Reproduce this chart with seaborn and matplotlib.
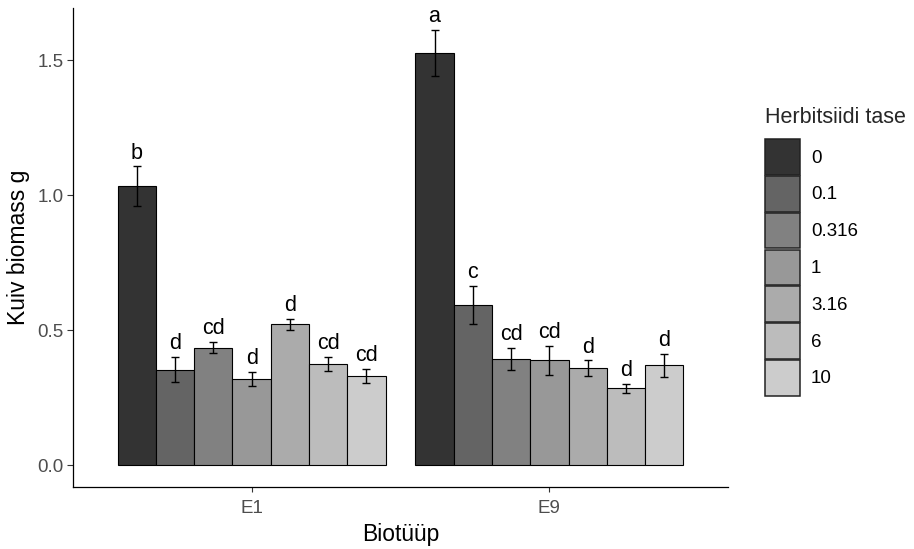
import matplotlib
matplotlib.use("Agg")
import matplotlib.pyplot as plt
import seaborn as sns
import pandas as pd
from matplotlib.patches import Patch

# Dry biomass (g) per biotype and herbicide level: means, standard errors, group letters
biotypes = ["E1", "E9"]
levels = ["0", "0.1", "0.316", "1", "3.16", "6", "10"]

e1_mean = [1.033, 0.354, 0.435, 0.319, 0.522, 0.376, 0.330]
e1_se = [0.074, 0.046, 0.021, 0.026, 0.020, 0.026, 0.026]
e1_letters = ["b", "d", "cd", "d", "d", "cd", "cd"]

e9_mean = [1.527, 0.593, 0.394, 0.389, 0.359, 0.284, 0.370]
e9_se = [0.085, 0.070, 0.040, 0.054, 0.029, 0.018, 0.043]
e9_letters = ["a", "c", "cd", "cd", "d", "d", "d"]

grey_fill = ["#333333", "#646464", "#818181", "#989898", "#ABABAB", "#BCBCBC", "#CCCCCC"]

df = pd.DataFrame({
    "Biotüüp": [biotypes[0]] * len(levels) + [biotypes[1]] * len(levels),
    "tase": levels + levels,
    "mass": e1_mean + e9_mean,
    "se": e1_se + e9_se,
    "letter": e1_letters + e9_letters,
})

sns.set_theme(style="ticks")
plt.rcParams["font.family"] = ["Liberation Sans", "DejaVu Sans"]

W, H = 914, 549
fig = plt.figure(figsize=(W / 100, H / 100), dpi=100)
ax = fig.add_axes([73 / W, 1 - 487 / H, (728 - 73) / W, (487 - 8) / H])

sns.barplot(
    data=df, x="Biotüüp", y="mass", hue="tase",
    order=biotypes, hue_order=levels, palette=grey_fill,
    width=0.9, gap=0, errorbar=None, saturation=1,
    edgecolor="black", linewidth=0.8, legend=False, ax=ax,
)

# error bars and significance letters on top of each bar
bars = sorted(ax.patches, key=lambda p: p.get_x())
for p, (_, row) in zip(bars, df.iterrows()):
    xc = p.get_x() + p.get_width() / 2
    top = p.get_height()
    ax.errorbar(xc, top, yerr=row["se"], fmt="none", ecolor="black",
                elinewidth=1.0, capsize=3.0, capthick=1.0, zorder=3)
    ax.annotate(row["letter"], (xc, top + row["se"]), xytext=(0, 5.5),
                textcoords="offset points", ha="center", va="baseline",
                fontsize=15.5, color="black")

ax.set_xlim(-0.6, 1.6)
ax.set_ylim(-0.081, 1.693)
ax.set_yticks([0.0, 0.5, 1.0, 1.5])
ax.set_yticklabels(["0.0", "0.5", "1.0", "1.5"])

for side in ("top", "right"):
    ax.spines[side].set_visible(False)
for side in ("left", "bottom"):
    ax.spines[side].set_linewidth(0.9)
    ax.spines[side].set_color("black")

ax.tick_params(axis="both", width=0.8, color="#333333",
               labelcolor="#4D4D4D", labelsize=13.5)
ax.tick_params(axis="x", length=3.5, pad=6)
ax.tick_params(axis="y", length=4.5, pad=2.5)
ax.set_xlabel("Biotüüp", fontsize=16.5, color="black", labelpad=4)
ax.set_ylabel("Kuiv biomass g", fontsize=16.5, color="black", labelpad=5)

handles = [Patch(facecolor=c, edgecolor="#222222", linewidth=1.1) for c in grey_fill]
leg = ax.legend(
    handles, levels, title="Herbitsiidi tase",
    loc="upper left", bbox_to_anchor=(765 / W, 1 - 107 / H),
    bbox_transform=fig.transFigure, frameon=False,
    fontsize=13.5, title_fontsize=15.5, alignment="left",
    handlelength=1.85, handleheight=2.55, labelspacing=0.06,
    handletextpad=0.6, borderpad=0, borderaxespad=0,
)
# extra room between the legend title and the first key
leg._legend_box.sep = 8
for t in leg.get_texts():
    t.set_color("black")

fig.savefig("out.png", dpi=100)
